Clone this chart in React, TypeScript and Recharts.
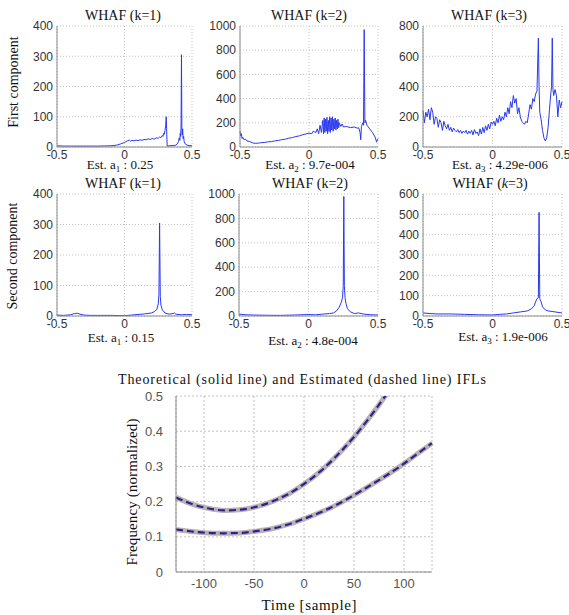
import React from 'react';
import { LineChart, Line, XAxis, YAxis, CartesianGrid } from 'recharts';

// ---------- shared ticks ----------
const FREQ_TICKS = [-0.5, 0, 0.5];
const TICKS_400 = [0, 100, 200, 300, 400];
const TICKS_1000 = [0, 200, 400, 600, 800, 1000];
const TICKS_800 = [0, 200, 400, 600, 800];
const TICKS_600 = [0, 100, 200, 300, 400, 500, 600];
const TIME_TICKS = [-100, -50, 0, 50, 100];
const IFL_TICKS = [0, 0.1, 0.2, 0.3, 0.4, 0.5];

// ---------- first component, k=1 ----------
const F1_X = [-0.5, -0.45, -0.4, -0.3, -0.2, -0.1, -0.06, -0.03, 0, 0.02, 0.035, 0.045, 0.055, 0.07, 0.085, 0.1, 0.115, 0.13, 0.145, 0.16, 0.175, 0.19, 0.205, 0.22, 0.235, 0.25, 0.26, 0.27, 0.28, 0.285, 0.29, 0.295, 0.3, 0.305, 0.309, 0.312, 0.316, 0.33, 0.36, 0.38, 0.39, 0.4, 0.405, 0.41, 0.413, 0.416, 0.419, 0.422, 0.425, 0.428, 0.431, 0.434, 0.438, 0.442, 0.45, 0.47, 0.5];
const F1_Y = [4, 3, 3, 3, 3, 4, 6, 10, 15, 20, 23, 19, 22, 20, 23, 21, 24, 22, 25, 24, 27, 25, 28, 26, 30, 29, 33, 31, 38, 35, 45, 42, 55, 70, 100, 60, 3, 4, 5, 6, 10, 18, 30, 22, 45, 35, 70, 305, 55, 40, 60, 28, 35, 18, 10, 5, 4];

// ---------- first component, k=2 ----------
const F2_X = [-0.5, -0.495, -0.49, -0.485, -0.48, -0.47, -0.46, -0.45, -0.43, -0.41, -0.39, -0.37, -0.35, -0.32, -0.3, -0.27, -0.25, -0.22, -0.2, -0.17, -0.15, -0.12, -0.1, -0.07, -0.05, -0.03, 0, 0.02, 0.03, 0.05, 0.06, 0.07, 0.08, 0.09, 0.1, 0.105, 0.11, 0.115, 0.12, 0.125, 0.13, 0.135, 0.14, 0.145, 0.15, 0.155, 0.16, 0.165, 0.17, 0.175, 0.18, 0.185, 0.19, 0.195, 0.2, 0.205, 0.21, 0.215, 0.22, 0.23, 0.24, 0.25, 0.27, 0.3, 0.33, 0.35, 0.36, 0.37, 0.375, 0.38, 0.39, 0.395, 0.4, 0.405, 0.41, 0.42, 0.44, 0.46, 0.48, 0.49, 0.495, 0.5];
const F2_Y = [130, 90, 110, 70, 80, 60, 65, 50, 45, 35, 30, 32, 35, 38, 42, 45, 50, 55, 60, 65, 72, 78, 85, 92, 100, 105, 115, 110, 130, 120, 150, 110, 180, 120, 220, 110, 240, 120, 230, 130, 245, 110, 220, 130, 250, 120, 240, 140, 250, 130, 230, 150, 240, 140, 220, 150, 230, 160, 200, 170, 190, 165, 170, 160, 165, 155, 160, 120, 60, 170, 200, 180, 970, 200, 220, 180, 150, 120, 80, 40, 60, 70];

// ---------- first component, k=3 ----------
const F3_X = [-0.5, -0.49, -0.48, -0.47, -0.46, -0.45, -0.44, -0.43, -0.42, -0.41, -0.4, -0.39, -0.38, -0.37, -0.36, -0.35, -0.34, -0.33, -0.32, -0.31, -0.3, -0.29, -0.28, -0.27, -0.26, -0.25, -0.24, -0.23, -0.22, -0.21, -0.2, -0.19, -0.18, -0.17, -0.16, -0.15, -0.14, -0.13, -0.12, -0.11, -0.1, -0.09, -0.08, -0.07, -0.06, -0.05, -0.04, -0.03, -0.02, -0.01, 0, 0.01, 0.02, 0.03, 0.04, 0.05, 0.06, 0.07, 0.08, 0.09, 0.1, 0.11, 0.12, 0.13, 0.14, 0.15, 0.16, 0.17, 0.18, 0.19, 0.2, 0.21, 0.22, 0.23, 0.24, 0.25, 0.26, 0.27, 0.28, 0.29, 0.3, 0.31, 0.32, 0.33, 0.335, 0.34, 0.35, 0.36, 0.37, 0.38, 0.39, 0.4, 0.41, 0.42, 0.425, 0.43, 0.435, 0.44, 0.45, 0.46, 0.47, 0.48, 0.49, 0.5];
const F3_Y = [240, 160, 230, 200, 250, 180, 260, 230, 150, 200, 190, 130, 180, 160, 110, 170, 140, 120, 150, 110, 130, 100, 125, 110, 100, 115, 95, 110, 90, 105, 95, 110, 85, 105, 90, 110, 80, 115, 90, 100, 75, 120, 85, 130, 95, 140, 110, 150, 120, 165, 150, 170, 140, 190, 160, 210, 170, 200, 180, 230, 200, 260, 220, 300, 260, 340, 290, 320, 220, 260, 200, 170, 160, 150, 170, 160, 220, 280, 250, 320, 300, 350, 370, 720, 400, 230, 180, 110, 60, 40, 60, 130, 250, 360, 400, 720, 380, 340, 380, 340, 200, 310, 260, 300];

// ---------- second component, k=1 ----------
const S1_X = [-0.5, -0.45, -0.4, -0.37, -0.35, -0.33, -0.3, -0.25, -0.2, -0.1, 0, 0.05, 0.1, 0.15, 0.2, 0.22, 0.24, 0.25, 0.255, 0.26, 0.265, 0.27, 0.28, 0.3, 0.33, 0.36, 0.37, 0.38, 0.42, 0.46, 0.5];
const S1_Y = [3, 2, 4, 8, 9, 6, 3, 2, 2, 2, 1, 3, 5, 7, 10, 14, 22, 40, 70, 305, 65, 35, 20, 10, 6, 8, 10, 6, 4, 5, 4];

// ---------- second component, k=2 ----------
const S2_X = [-0.5, -0.45, -0.4, -0.3, -0.2, -0.1, 0, 0.05, 0.1, 0.15, 0.18, 0.2, 0.22, 0.235, 0.245, 0.25, 0.254, 0.258, 0.263, 0.27, 0.28, 0.3, 0.33, 0.36, 0.4, 0.45, 0.5];
const S2_Y = [15, 10, 8, 6, 5, 8, 12, 10, 15, 20, 25, 40, 70, 110, 150, 250, 980, 250, 150, 100, 60, 35, 20, 25, 15, 10, 8];

// ---------- second component, k=3 ----------
const S3_X = [-0.5, -0.45, -0.4, -0.3, -0.2, -0.1, 0, 0.05, 0.1, 0.15, 0.2, 0.25, 0.28, 0.3, 0.31, 0.32, 0.33, 0.335, 0.34, 0.35, 0.36, 0.38, 0.4, 0.45, 0.5];
const S3_Y = [15, 12, 10, 10, 8, 6, 5, 8, 10, 15, 20, 25, 35, 50, 70, 85, 90, 510, 85, 70, 45, 30, 25, 20, 15];

// ---------- IFLs ----------
const TIME = [-128, -112, -96, -80, -64, -48, -32, -16, 0, 16, 32, 48, 64, 80, 96, 112, 128];
const THEO_UPPER = [0.212, 0.193, 0.181, 0.175, 0.177, 0.185, 0.2, 0.221, 0.25, 0.285, 0.328, 0.377, 0.433, 0.495, 0.565, 0.64, 0.72];
const THEO_LOWER = [0.121, 0.115, 0.111, 0.11, 0.111, 0.116, 0.123, 0.135, 0.151, 0.169, 0.19, 0.215, 0.242, 0.27, 0.3, 0.333, 0.366];
const EST_UPPER = [0.212, 0.193, 0.181, 0.175, 0.177, 0.185, 0.2, 0.221, 0.25, 0.285, 0.328, 0.377, 0.433, 0.495, 0.565, 0.64, 0.72];
const EST_LOWER = [0.121, 0.115, 0.111, 0.11, 0.111, 0.116, 0.123, 0.135, 0.151, 0.169, 0.19, 0.215, 0.242, 0.27, 0.3, 0.333, 0.366];

const SANS = "'Liberation Sans', Arial, sans-serif";
const SERIF = "'Liberation Serif', 'Times New Roman', 'DejaVu Serif', serif";
const BOX = '#8a8a8a';

const fmtFreq = (v: number) => (v === 0 ? '0' : String(v));

type PanelProps = {
  left: number; top: number; w: number; h: number;
  xs: number[]; ys: number[]; yMax: number; yTicks: number[];
};

function Panel({ left, top, w, h, xs, ys, yMax, yTicks }: PanelProps) {
  const data = xs.map((x, i) => ({ x, y: ys[i] }));
  const YW = 30, XH = 20, MT = 10, MR = 14;
  return (
    <div style={{ position: 'absolute', left: left - YW, top: top - MT }}>
      <LineChart width={w + YW + MR} height={h + MT + XH} data={data} margin={{ top: MT, right: MR, left: 0, bottom: 0 }}>
        <CartesianGrid stroke="#c4c4c4" strokeDasharray="1 2" />
        <XAxis dataKey="x" type="number" domain={[-0.5, 0.5]} ticks={FREQ_TICKS} interval={0} height={XH}
          tickLine={false} tickSize={2} tickMargin={1} axisLine={{ stroke: BOX }} tickFormatter={fmtFreq}
          tick={{ fontSize: 12, fill: '#333', style: { fontFamily: SANS } }} />
        <XAxis xAxisId="top" orientation="top" type="number" domain={[-0.5, 0.5]} height={0} tick={false} tickLine={false} axisLine={{ stroke: BOX }} />
        <YAxis type="number" domain={[0, yMax]} ticks={yTicks} interval={0} width={YW} allowDataOverflow
          tickLine={false} tickSize={2} tickMargin={2} axisLine={{ stroke: BOX }}
          tick={{ fontSize: 12, fill: '#333', style: { fontFamily: SANS } }} />
        <YAxis yAxisId="right" orientation="right" type="number" domain={[0, 1]} width={0} tick={false} tickLine={false} axisLine={{ stroke: BOX }} />
        <Line dataKey="y" type="linear" stroke="#2a38ee" strokeWidth={1} dot={false} isAnimationActive={false} />
      </LineChart>
    </div>
  );
}

function Est({ x, y, sub, val }: { x: number; y: number; sub: string; val: string }) {
  return (
    <text x={x} y={y} textAnchor="middle" style={{ fontFamily: SERIF, fontSize: 13 }} fill="#111">
      Est. a<tspan dy={3} style={{ fontSize: 9 }}>{sub}</tspan><tspan dy={-3}> : {val}</tspan>
    </text>
  );
}

export default function App() {
  const iflData = TIME.map((t, i) => ({
    t,
    theoUpper: THEO_UPPER[i],
    theoLower: THEO_LOWER[i],
    estUpper: EST_UPPER[i],
    estLower: EST_LOWER[i],
  }));

  const serif14 = { fontFamily: SERIF, fontSize: 14 };
  const serif15 = { fontFamily: SERIF, fontSize: 15 };

  return (
    <div style={{ position: 'absolute', left: 0, top: 0, width: 569, height: 615, background: '#fff', overflow: 'hidden' }}>
      <Panel left={57} top={26} w={135} h={121} xs={F1_X} ys={F1_Y} yMax={400} yTicks={TICKS_400} />
      <Panel left={240} top={26} w={138} h={121} xs={F2_X} ys={F2_Y} yMax={1000} yTicks={TICKS_1000} />
      <Panel left={423} top={26} w={139} h={121} xs={F3_X} ys={F3_Y} yMax={800} yTicks={TICKS_800} />
      <Panel left={57} top={194} w={135} h={122} xs={S1_X} ys={S1_Y} yMax={400} yTicks={TICKS_400} />
      <Panel left={239} top={194} w={139} h={122} xs={S2_X} ys={S2_Y} yMax={1000} yTicks={TICKS_1000} />
      <Panel left={423} top={194} w={139} h={122} xs={S3_X} ys={S3_Y} yMax={600} yTicks={TICKS_600} />

      <div style={{ position: 'absolute', left: 126, top: 386 }}>
        <LineChart width={320} height={211} data={iflData} margin={{ top: 10, right: 14, left: 0, bottom: 0 }}>
          <CartesianGrid stroke="#c0c0c0" strokeDasharray="2 2" />
          <XAxis dataKey="t" type="number" domain={[-128, 128]} ticks={TIME_TICKS} interval={0} height={25}
            tickLine={false} tickSize={4} tickMargin={3} axisLine={{ stroke: BOX }}
            tick={{ fontSize: 13, fill: '#555', style: { fontFamily: SANS } }} />
          <XAxis xAxisId="top" orientation="top" type="number" domain={[-128, 128]} height={0} tick={false} tickLine={false} axisLine={{ stroke: BOX }} />
          <YAxis type="number" domain={[0, 0.5]} ticks={IFL_TICKS} interval={0} width={50} allowDataOverflow
            tickLine={false} tickSize={4} tickMargin={9} axisLine={{ stroke: BOX }}
            tick={{ fontSize: 13, fill: '#555', style: { fontFamily: SANS } }} />
          <YAxis yAxisId="right" orientation="right" type="number" domain={[0, 1]} width={0} tick={false} tickLine={false} axisLine={{ stroke: BOX }} />
          <Line dataKey="theoUpper" type="monotone" stroke="#b4b4b4" strokeWidth={5} dot={false} isAnimationActive={false} />
          <Line dataKey="theoLower" type="monotone" stroke="#b4b4b4" strokeWidth={5} dot={false} isAnimationActive={false} />
          <Line dataKey="estUpper" type="monotone" stroke="#3a1d8c" strokeWidth={2.2} strokeDasharray="7 4" dot={false} isAnimationActive={false} />
          <Line dataKey="estLower" type="monotone" stroke="#3a1d8c" strokeWidth={2.2} strokeDasharray="7 4" dot={false} isAnimationActive={false} />
        </LineChart>
      </div>

      <svg width={569} height={615} style={{ position: 'absolute', left: 0, top: 0, pointerEvents: 'none' }}>
        <g fill="#111" textAnchor="middle">
          <text x={123} y={20} style={serif14}>WHAF (k=1)</text>
          <text x={309} y={20} style={serif14}>WHAF (k=2)</text>
          <text x={489} y={20} style={serif14}>WHAF (k=3)</text>
          <text x={123} y={188} style={serif14}>WHAF (k=1)</text>
          <text x={310} y={188} style={serif14}>WHAF (k=2)</text>
          <text x={490} y={188} style={serif14}>WHAF (<tspan style={{ fontStyle: 'italic' }}>k</tspan>=3)</text>
          <text transform="translate(13,82) rotate(-90)" dominantBaseline="central" style={serif14}>First component</text>
          <text transform="translate(12,256) rotate(-90)" dominantBaseline="central" style={serif14}>Second component</text>
        </g>
        <Est x={120} y={169} sub="1" val="0.25" />
        <Est x={310} y={169} sub="2" val="9.7e-004" />
        <Est x={500} y={169} sub="3" val="4.29e-006" />
        <Est x={121} y={342} sub="1" val="0.15" />
        <Est x={313} y={345} sub="2" val="4.8e-004" />
        <Est x={503} y={341} sub="3" val="1.9e-006" />
        <text x={118} y={384} style={serif14} fill="#111" textLength={368} lengthAdjust="spacing">Theoretical (solid line) and Estimated (dashed line) IFLs</text>
        <text transform="translate(132,492) rotate(-90)" textAnchor="middle" dominantBaseline="central" style={serif15} fill="#111" textLength={147} lengthAdjust="spacing">Frequency (normalized)</text>
        <text x={309} y={610} textAnchor="middle" style={serif15} fill="#111" textLength={95} lengthAdjust="spacing">Time [sample]</text>
      </svg>
    </div>
  );
}
